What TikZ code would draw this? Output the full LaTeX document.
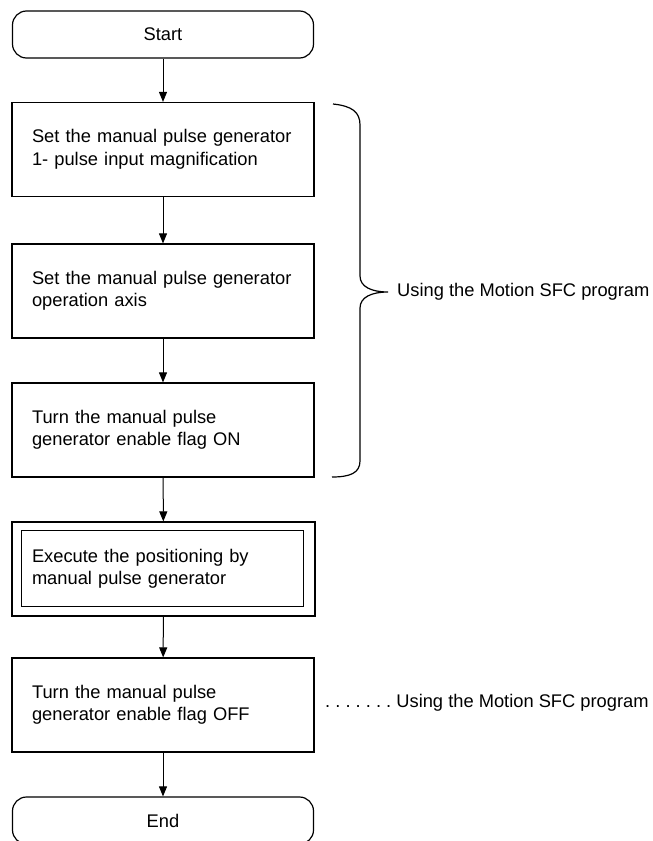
\documentclass[tikz,border=0pt]{standalone}
\usepackage{fontspec}
\setmainfont{Liberation Sans}
\usetikzlibrary{positioning,arrows.meta,calc}
\newcommand{\flowfont}{\fontsize{18.3}{22.5}\selectfont\frenchspacing}
\tikzset{
  term/.style ={rectangle, rounded corners=14pt, draw=black, line width=1.2pt,
                minimum width=301pt, minimum height=47pt, inner sep=0pt, font=\flowfont},
  pbox/.style ={rectangle, draw=black, line width=1.2pt, minimum width=302pt,
                minimum height=94pt, text width=262pt, inner xsep=20pt, inner ysep=0pt,
                align=left, font=\flowfont},
  sbox/.style ={pbox, minimum width=303pt, text width=263pt, inner xsep=20pt},
  arr/.style  ={-{Triangle[length=10pt,width=8pt]}, line width=1pt},
  note/.style ={anchor=west, inner sep=0pt, font=\flowfont},
}

\begin{document}
\begin{tikzpicture}[x=1pt,y=-1pt]
  \useasboundingbox (0,0) rectangle (653,841);
  % flow column
  \node[term] (start) at (163,34.5) {Start};
  \node[pbox] (mag)   at (163,149.5) {Set the manual pulse generator\\1- pulse input magnification};
  \node[pbox] (axis)  at (163,291) {Set the manual pulse generator\\operation axis};
  \node[pbox] (flon)  at (163,430) {Turn the manual pulse\\generator enable flag ON};
  \node[sbox] (exec)  at (163.5,569) {Execute the positioning by\\manual pulse generator};
  \draw[line width=1.2pt] ([shift={(10,9)}]exec.north west) rectangle ([shift={(-12,-10)}]exec.south east);
  \node[pbox] (floff) at (163,705) {Turn the manual pulse\\generator enable flag OFF};
  \node[term] (end)   at (163,820.5) {End};
  \draw[arr] (start) -- (mag);
  \draw[arr] (mag)   -- (axis);
  \draw[arr] (axis)  -- (flon);
  \draw[arr] (flon)  -- (exec);
  \draw[arr] (exec)  -- (floff);
  \draw[arr] (floff) -- (end);
  % brace and notes
  \coordinate (tip) at (388,292);
  \draw[line width=1.2pt] (333,104) .. controls (352,106) and (360,112) .. (360,125)
    -- (360,276) .. controls (360,287) and (372,292) .. (tip)
    .. controls (372,292) and (360,297) .. (360,308)
    -- (360,461) .. controls (360,473) and (350,477) .. (332,477);
  \node[note] (sfc1) at (397,292) {Using the Motion SFC program};
  \node[note] (sfc2) at (325,703) {. . . . . . . Using the Motion SFC program};
\end{tikzpicture}
\end{document}
